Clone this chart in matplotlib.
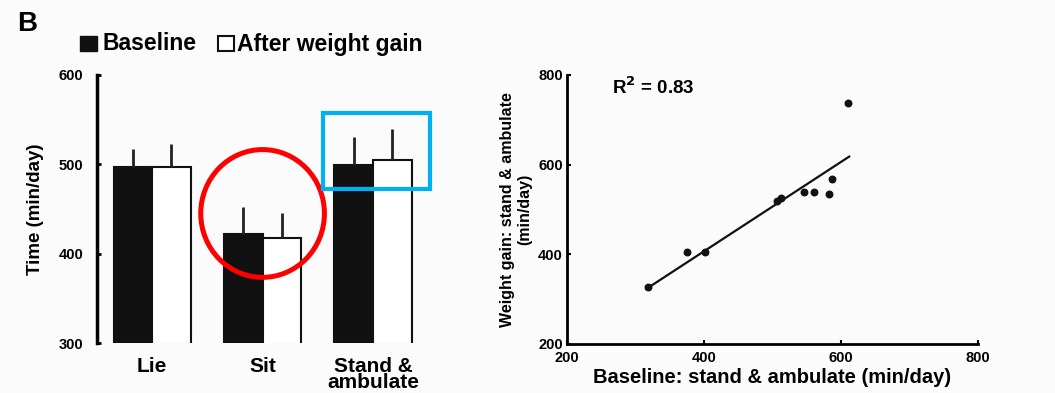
import numpy as np
import matplotlib.pyplot as plt
from matplotlib.patches import Ellipse, Rectangle

plt.rcParams['font.family'] = ['Liberation Sans', 'DejaVu Sans']
plt.rcParams['font.weight'] = 'bold'
plt.rcParams['axes.labelweight'] = 'bold'

# Time spent per posture (min/day)
categories = ['Lie', 'Sit', 'Stand &\nambulate']
baseline = [497, 422, 499]
baseline_err = [20, 30, 32]
after_gain = [497, 418, 505]
after_gain_err = [26, 28, 34]

# Stand & ambulate: baseline vs after weight gain, per subject
base_stand = [318, 375, 401, 507, 512, 546, 560, 582, 587, 610]
gain_stand = [327, 406, 405, 518, 526, 538, 538, 535, 569, 737]
fit_x = [316, 612]
fit_y = [323, 618]
r_squared = 0.83

fig = plt.figure(figsize=(10.55, 3.93), dpi=100)
fig.patch.set_facecolor('#fbfbfb')

# ---- bar chart ----
ax = fig.add_axes([0.0919, 0.1272, 0.314, 0.682])
ax.set_facecolor('none')
x = np.arange(len(categories))
w = 0.35
ax.bar(x - w / 2, baseline, w, color='#111111', edgecolor='#111111', linewidth=1.5)
ax.bar(x + w / 2, after_gain, w, color='white', edgecolor='#111111', linewidth=1.5)
ax.vlines(x - w / 2, baseline, np.add(baseline, baseline_err), color='#222222', lw=2)
ax.vlines(x + w / 2, after_gain, np.add(after_gain, after_gain_err), color='#222222', lw=2)
ax.set_ylim(300, 600)
ax.set_xlim(-0.5, 2.5)
ax.set_yticks([300, 400, 500, 600])
ax.set_xticks(x)
ax.set_xticklabels(categories, fontsize=15, linespacing=0.78)
ax.tick_params(axis='x', length=0, pad=10)
ax.tick_params(axis='y', direction='in', length=3, width=2, labelsize=10.5, pad=10)
for side in ['top', 'right', 'bottom']:
    ax.spines[side].set_visible(False)
ax.spines['left'].set_linewidth(2.5)
ax.set_ylabel('Time (min/day)', fontsize=13.5, labelpad=10)

# highlight marks
ax.add_patch(Ellipse((1, 445), 1.12, 143, fill=False, edgecolor='#ff0000', lw=3.6, clip_on=False))
ax.add_patch(Rectangle((1.55, 472), 0.97, 85, fill=False, edgecolor='#00b0f0', lw=3, clip_on=False))

# legend
fig.text(0.016, 0.94, 'B', fontsize=20, fontweight='bold', va='center')
fig.patches.append(Rectangle((80 / 1055, 1 - 51 / 393), 17 / 1055, 15 / 393,
                             transform=fig.transFigure, facecolor='#111111', edgecolor='#111111'))
fig.patches.append(Rectangle((218 / 1055, 1 - 51 / 393), 16 / 1055, 15 / 393,
                             transform=fig.transFigure, facecolor='white', edgecolor='#111111', lw=1.5))
fig.text(102 / 1055, 1 - 44 / 393, 'Baseline', fontsize=16.5, va='center')
fig.text(237 / 1055, 1 - 44 / 393, 'After weight gain', fontsize=16.5, va='center')

# ---- scatter ----
ax2 = fig.add_axes([0.5374, 0.1247, 0.3896, 0.6845])
ax2.set_facecolor('none')
ax2.scatter(base_stand, gain_stand, s=22, color='#111111', zorder=3)
ax2.plot(fit_x, fit_y, color='#111111', lw=1.6)
ax2.set_xlim(200, 800)
ax2.set_ylim(200, 800)
ax2.set_xticks([200, 400, 600, 800])
ax2.set_yticks([200, 400, 600, 800])
ax2.tick_params(direction='in', length=3, width=1.5, labelsize=10.5, pad=3)
ax2.tick_params(axis='x', pad=5)
for side in ['top', 'right']:
    ax2.spines[side].set_visible(False)
ax2.spines['left'].set_linewidth(2)
ax2.spines['bottom'].set_linewidth(2)
ax2.text(266, 773, 'R$^{2}$ = %.2f' % r_squared, fontsize=13.5, va='center')
ax2.set_xlabel('Baseline: stand & ambulate (min/day)', fontsize=14.5, labelpad=2)
ax2.set_ylabel('Weight gain: stand & ambulate\n(min/day)', fontsize=11.5, labelpad=4, linespacing=1.2)

fig.savefig('out.png', dpi=100, facecolor=fig.get_facecolor())
